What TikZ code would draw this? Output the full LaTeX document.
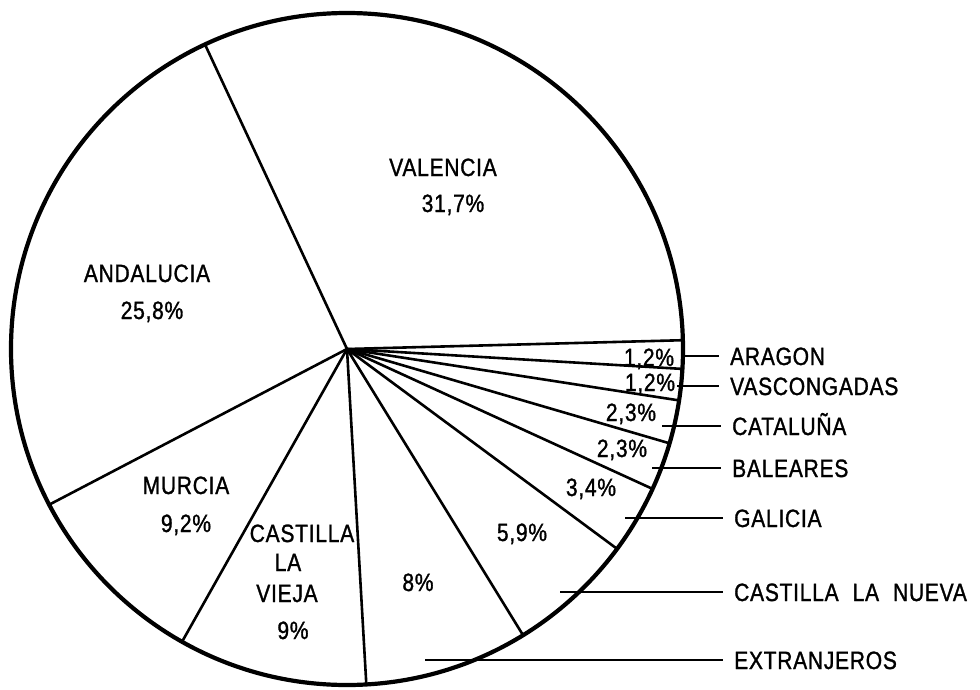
\documentclass[tikz,border=0pt]{standalone}
\usepackage{fontspec}
\setmainfont{Liberation Sans}[FakeStretch=0.84,FakeBold=1.2,LetterSpace=3]
\usetikzlibrary{positioning}

\begin{document}
\begin{tikzpicture}[x=1pt,y=1pt,
  every node/.style={font=\fontsize{25}{28}\selectfont,text height=18pt,text depth=0pt,inner sep=0pt},
  slice/.style={line width=2.6pt},
  lead/.style={line width=2pt},
  region/.style={anchor=west,inner xsep=11pt}]
\useasboundingbox (-347,-340) rectangle (633,349);

% the pie
\coordinate (c) at (0,0);
\draw[line width=4.2pt] (c) circle (336);

\draw[slice] (c) -- (1.5:336);
\draw[slice] (c) -- (115:336);
\draw[slice] (c) -- (207.6:336);
\draw[slice] (c) -- (240.6:336);
\draw[slice] (c) -- (273.3:336);
\draw[slice] (c) -- (301.6:336);
\draw[slice] (c) -- (323.5:336);
\draw[slice] (c) -- (335.4:336);
\draw[slice] (c) -- (343.7:336);
\draw[slice] (c) -- (351.2:336);
\draw[slice] (c) -- (356.6:336);

% labels inside
\node (valencia) at (96,182) {VALENCIA};
\node (valenciap) at (106,146) {31,7\%};

\node (andalucia) at (-200,76) {ANDALUCIA};
\node (andaluciap) at (-195,39) {25,8\%};

\node (murcia) at (-161,-136) {MURCIA};
\node (murciap) at (-161,-174) {9,2\%};

\node (cvieja1) at (-45,-184) {CASTILLA};
\node (cvieja2) at (-59,-213) {LA};
\node (cvieja3) at (-60,-244) {VIEJA};
\node (cviejap) at (-54,-281) {9\%};

\node (extranjerosp) at (71,-233) {8\%};
\node (cnuevap) at (175,-183) {5,9\%};
\node (galiciap) at (244,-138) {3,4\%};
\node (balearesp) at (275,-99) {2,3\%};
\node (catalunap) at (284,-63) {2,3\%};
\node (vascop) at (303,-33) {1,2\%};
\node (aragonp) at (302,-8) {1,2\%};

% small slices, named outside
\coordinate (aragon-in) at (335,-7);
\node[region] (aragon) at (372,-7) {ARAGON};
\draw[lead] (aragon-in) -- (aragon.west);

\coordinate (vasco-in) at (330,-37);
\node[region] (vasco) at (372,-37) {VASCONGADAS};
\draw[lead] (vasco-in) -- (vasco.west);

\coordinate (cataluna-in) at (315,-77);
\node[region] (cataluna) at (374,-77) {CATALUÑA};
\draw[lead] (cataluna-in) -- (cataluna.west);

\coordinate (baleares-in) at (305,-119);
\node[region] (baleares) at (374,-119) {BALEARES};
\draw[lead] (baleares-in) -- (baleares.west);

\coordinate (galicia-in) at (278,-169);
\node[region] (galicia) at (376,-169) {GALICIA};
\draw[lead] (galicia-in) -- (galicia.west);

\coordinate (cnueva-in) at (213,-243);
\node[region] (cnueva) at (376,-243) {CASTILLA\hspace{14pt}LA\hspace{14pt}NUEVA};
\draw[lead] (cnueva-in) -- (cnueva.west);

\coordinate (extranjeros-in) at (78,-311);
\node[region] (extranjeros) at (376,-311) {EXTRANJEROS};
\draw[lead] (extranjeros-in) -- (extranjeros.west);
\end{tikzpicture}
\end{document}
